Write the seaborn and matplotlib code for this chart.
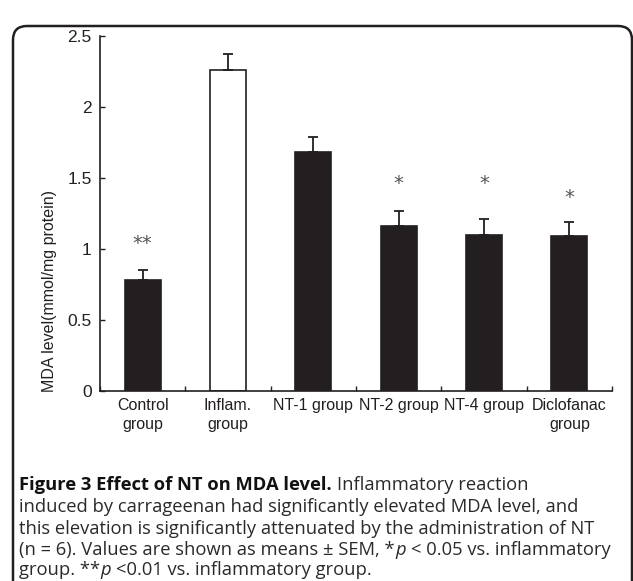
import matplotlib
matplotlib.use("Agg")
import matplotlib.pyplot as plt
import seaborn as sns
import numpy as np
import pandas as pd
from matplotlib.patches import FancyBboxPatch
from matplotlib.transforms import IdentityTransform

# ---- data ----
categories = ["Control\ngroup", "Inflam.\ngroup", "NT-1 group", "NT-2 group", "NT-4 group", "Diclofanac\ngroup"]
mda_mean = [0.78, 2.26, 1.68, 1.16, 1.10, 1.09]
mda_sem = [0.07, 0.11, 0.11, 0.11, 0.11, 0.10]
sig_marks = ["**", "", "", "*", "*", "*"]
sig_height = [1.04, 0, 0, 1.46, 1.46, 1.36]
bar_colors = ["#231f20", "#ffffff", "#231f20", "#231f20", "#231f20", "#231f20"]
y_ticks = [0, 0.5, 1, 1.5, 2, 2.5]
y_tick_labels = ["0", "0.5", "1", "1.5", "2", "2.5"]
y_label = "MDA level(mmol/mg protein)"

caption_lines = [
    [("Figure 3 Effect of NT on MDA level.", "bold", "normal"), (" Inflammatory reaction", "normal", "normal")],
    [("induced by carrageenan had significantly elevated MDA level, and", "normal", "normal")],
    [("this elevation is significantly attenuated by the administration of NT", "normal", "normal")],
    [("(n = 6). Values are shown as means ± SEM, *", "normal", "normal"), ("p", "normal", "italic"),
     (" < 0.05 vs. inflammatory", "normal", "normal")],
    [("group. **", "normal", "normal"), ("p", "normal", "italic"), (" <0.01 vs. inflammatory group.", "normal", "normal")],
]

W, H = 633, 581
sns.set_theme(style="ticks")
plt.rcParams["font.family"] = ["Liberation Sans", "DejaVu Sans"]

fig = plt.figure(figsize=(W / 100, H / 100), dpi=100)
fig.patch.set_facecolor("white")
ax = fig.add_axes([100 / W, 1 - 391 / H, (612 - 100) / W, (391 - 36) / H])

df = pd.DataFrame({"group": categories, "mda": mda_mean})
palette = dict(zip(categories, bar_colors))
sns.barplot(data=df, x="group", y="mda", hue="group", palette=palette, legend=False,
            order=categories, width=0.42, errorbar=None, ax=ax, saturation=1)
for p in ax.patches:
    p.set_edgecolor("#231f20")
    p.set_linewidth(1.2)

xs = np.arange(len(categories))
ax.errorbar(xs, mda_mean, yerr=[np.zeros(len(mda_sem)), mda_sem], fmt="none",
            ecolor="#231f20", elinewidth=1.3, capsize=3.8, capthick=1.3, zorder=3)

for x, m, h in zip(xs, sig_marks, sig_height):
    if m:
        ax.text(x, h, m, ha="center", va="center", fontsize=14, color="#555555",
                family=["DejaVu Sans"])

ax.set_xlim(-0.5, len(categories) - 0.5)
ax.set_ylim(0, 2.5)
ax.set_yticks(y_ticks)
ax.set_yticklabels(y_tick_labels)
ax.set_xticks(xs)
ax.set_xticklabels(categories, linespacing=1.3)
ax.set_xticks(np.arange(-0.5, len(categories), 1.0), minor=True)
ax.tick_params(axis="x", which="major", length=0, pad=5, labelsize=11.5, labelcolor="#231f20")
ax.tick_params(axis="x", which="minor", direction="in", length=3.5, width=1, color="#231f20")
ax.tick_params(axis="y", which="major", direction="in", length=3.5, width=1, color="#231f20",
               pad=6, labelsize=12.5, labelcolor="#231f20")
ax.set_xlabel("")
ax.set_ylabel(y_label, fontsize=11.5, color="#231f20")
ax.yaxis.set_label_coords(57 / W, 0.5, transform=fig.transFigure)
for s in ["top", "right"]:
    ax.spines[s].set_visible(False)
for s in ["left", "bottom"]:
    ax.spines[s].set_color("#231f20")
    ax.spines[s].set_linewidth(1.2)
ax.set_facecolor("white")

# ---- rounded frame ----
frame = FancyBboxPatch((13, -20), 619, H - 13 + 20 - 13,
                       boxstyle="round,pad=0,rounding_size=14", transform=IdentityTransform(),
                       fill=False, edgecolor="#231f20", linewidth=1.8, figure=fig)
fig.patches.append(frame)

# ---- caption ----
cap_family = ["Open Sans", "DejaVu Sans"]
fig.canvas.draw()
renderer = fig.canvas.get_renderer()


def text_width(s, fs, weight="normal", style="normal"):
    t = fig.text(0, 0, s, fontsize=fs, family=cap_family, fontweight=weight, fontstyle=style)
    w = t.get_window_extent(renderer).width
    t.remove()
    return w


def line_width(segs, fs):
    sw = text_width("x x", fs) - text_width("xx", fs)
    total = 0.0
    for txt, weight, style in segs:
        lead = len(txt) - len(txt.lstrip(" "))
        trail = len(txt) - len(txt.rstrip(" "))
        total += (lead + trail) * sw + text_width(txt.strip(" "), fs, weight, style) + 0.5
    return total


# size the caption so that its widest line spans the frame as in the reference
widest = max(line_width(segs, 10.0) for segs in caption_lines)
cap_fs = 10.0 * 594.0 / widest
space_w = text_width("x x", cap_fs) - text_width("xx", cap_fs)
baselines = [490, 512, 534, 555, 575]
for base, segs in zip(baselines, caption_lines):
    x = 19
    for txt, weight, style in segs:
        lead = len(txt) - len(txt.lstrip(" "))
        x += lead * space_w
        core = txt.strip(" ")
        color = "#111111" if weight == "bold" else "#2a2a2a"
        t = fig.text(x / W, 1 - base / H, core, fontsize=cap_fs, family=cap_family,
                     fontweight=weight, fontstyle=style, color=color, ha="left", va="baseline")
        bb = t.get_window_extent(renderer)
        x = bb.x1 + 0.5
        trail = len(txt) - len(txt.rstrip(" "))
        x += trail * space_w

fig.savefig("out.png", dpi=100, facecolor="white")
